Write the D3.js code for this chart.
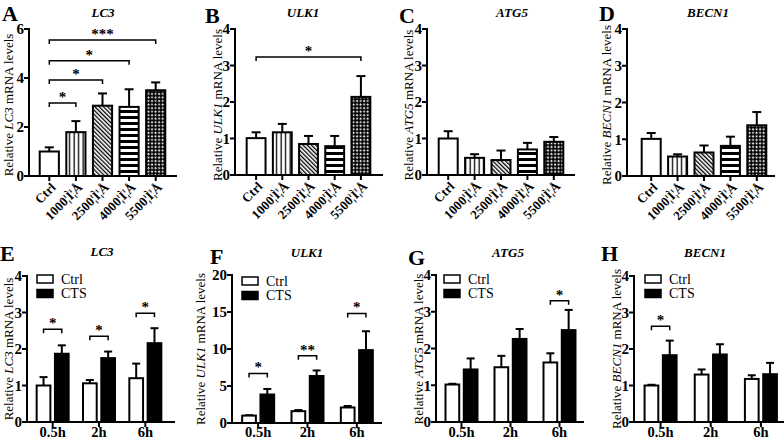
<!DOCTYPE html>
<html><head><meta charset="utf-8">
<script src="https://cdn.jsdelivr.net/npm/d3@7"></script>
<style>
body{margin:0;background:#fff;}
svg text{font-family:"Liberation Serif","Times New Roman",Tinos,"DejaVu Serif","Noto Serif",serif;}
</style></head><body>
<svg id="c" width="784" height="439"></svg>
<script>
// ---------- data ----------
const doseCats = ["Ctrl","1000¦Ì¦Å","2500¦Ì¦Å","4000¦Ì¦Å","5500¦Ì¦Å"];
const doseFills = ["white","vstripe","diag","hstripe","checker"];
const lc3Dose = [1.0, 1.79, 2.87, 2.82, 3.5];
const lc3DoseErr = [0.17, 0.45, 0.5, 0.72, 0.32];
const ulk1Dose = [1.01, 1.17, 0.85, 0.79, 2.14];
const ulk1DoseErr = [0.16, 0.23, 0.22, 0.28, 0.57];
const atg5Dose = [1.0, 0.47, 0.41, 0.7, 0.91];
const atg5DoseErr = [0.2, 0.1, 0.26, 0.18, 0.13];
const becn1Dose = [1.01, 0.53, 0.64, 0.82, 1.38];
const becn1DoseErr = [0.16, 0.06, 0.19, 0.25, 0.36];

const timeCats = ["0.5h","2h","6h"];
const seriesNames = ["Ctrl","CTS"];
const lc3Ctrl = [1.0, 1.06, 1.2],  lc3CtrlErr = [0.23, 0.09, 0.4];
const lc3Cts  = [1.87, 1.75, 2.16], lc3CtsErr = [0.23, 0.18, 0.41];
const ulk1Ctrl = [1.0, 1.6, 2.1],  ulk1CtrlErr = [0.05, 0.15, 0.2];
const ulk1Cts  = [3.85, 6.35, 9.85], ulk1CtsErr = [0.75, 0.75, 2.55];
const atg5Ctrl = [1.02, 1.49, 1.62], atg5CtrlErr = [0.02, 0.31, 0.25];
const atg5Cts  = [1.43, 2.26, 2.5],  atg5CtsErr = [0.3, 0.27, 0.55];
const becn1Ctrl = [1.0, 1.3, 1.18], becn1CtrlErr = [0.02, 0.14, 0.1];
const becn1Cts  = [1.83, 1.85, 1.31], becn1CtsErr = [0.4, 0.28, 0.31];

const ticks4 = [0,1,2,3,4];
const ticks6 = [0,2,4,6];
const ticks20 = [0,5,10,15,20];

const sigA = [{from:0,to:1,y:2.98,label:"*"},{from:0,to:2,y:3.92,label:"*"},{from:0,to:3,y:4.7,label:"*"},{from:0,to:4,y:5.55,label:"***"}];
const sigB = [{from:0,to:4,y:3.23,label:"*"}];
const sigE = [{g:0,y:2.54,label:"*"},{g:1,y:2.35,label:"*"},{g:2,y:2.98,label:"*"}];
const sigF = [{g:0,y:6.7,label:"*"},{g:1,y:9.1,label:"**"},{g:2,y:14.8,label:"*"}];
const sigG = [{g:2,y:3.3,label:"*"}];
const sigH = [{g:0,y:2.62,label:"*"}];

// ---------- drawing ----------
const svg = d3.select("#c");
const defs = svg.append("defs");
let p = defs.append("pattern").attr("id","vstripe").attr("patternUnits","userSpaceOnUse").attr("width",4.5).attr("height",4);
p.append("rect").attr("width",4.5).attr("height",4).attr("fill","#fff");
p.append("rect").attr("x",1.5).attr("width",1.3).attr("height",4).attr("fill","#000");
p = defs.append("pattern").attr("id","diag").attr("patternUnits","userSpaceOnUse").attr("width",3).attr("height",3).attr("patternTransform","rotate(-45)");
p.append("rect").attr("width",3).attr("height",3).attr("fill","#fff");
p.append("rect").attr("x",0).attr("width",1.3).attr("height",3).attr("fill","#000");
p = defs.append("pattern").attr("id","hstripe").attr("patternUnits","userSpaceOnUse").attr("width",4).attr("height",6);
p.append("rect").attr("width",4).attr("height",6).attr("fill","#fff");
p.append("rect").attr("y",2).attr("width",4).attr("height",3).attr("fill","#000");
p = defs.append("pattern").attr("id","checker").attr("patternUnits","userSpaceOnUse").attr("width",5).attr("height",5).attr("patternTransform","rotate(45)");
p.append("rect").attr("width",5).attr("height",5).attr("fill","#000");
p.append("rect").attr("x",0.5).attr("y",0.5).attr("width",1.8).attr("height",1.8).attr("fill","#fff");
p.append("rect").attr("x",3).attr("y",3).attr("width",1.8).attr("height",1.8).attr("fill","#fff");

function fillOf(k){ return k==="white" ? "#fff" : `url(#${k})`; }

function drawAxes(g, L, y, yTicks){
  g.append("line").attr("x1",L.x0).attr("x2",L.x0).attr("y1",L.yTop-1).attr("y2",L.yBot+1).attr("stroke","#000").attr("stroke-width",2);
  g.append("line").attr("x1",L.x0-1).attr("x2",L.x1).attr("y1",L.yBot).attr("y2",L.yBot).attr("stroke","#000").attr("stroke-width",2);
  yTicks.forEach(t=>{
    g.append("line").attr("x1",L.x0-5).attr("x2",L.x0).attr("y1",y(t)).attr("y2",y(t)).attr("stroke","#000").attr("stroke-width",2);
    g.append("text").attr("x",L.x0-5).attr("y",y(t)).attr("dy","0.35em").attr("text-anchor","end")
      .attr("font-size",15).attr("font-weight","bold").text(t);
  });
}
function yTitle(g, x, cy, gene){
  const t = g.append("text").attr("transform",`translate(${x},${cy}) rotate(-90)`).attr("text-anchor","middle").attr("font-size",13);
  t.append("tspan").text("Relative ");
  t.append("tspan").attr("font-style","italic").text(gene);
  t.append("tspan").text(" mRNA levels");
}
function headers(g, letter, lx, ly, gene, tx, ty){
  g.append("text").attr("x",lx).attr("y",ly).attr("font-size",22).attr("font-weight","bold").text(letter);
  g.append("text").attr("x",tx).attr("y",ty).attr("text-anchor","middle").attr("font-size",13).attr("font-weight","bold").attr("font-style","italic").text(gene);
}
function errBar(g, cx, top, yv, cap){
  g.append("line").attr("x1",cx).attr("x2",cx).attr("y1",top).attr("y2",yv).attr("stroke","#000").attr("stroke-width",2);
  g.append("line").attr("x1",cx-cap/2).attr("x2",cx+cap/2).attr("y1",yv).attr("y2",yv).attr("stroke","#000").attr("stroke-width",2);
}
function bracket(g, xa, xb, yy, label){
  g.append("path").attr("d",`M${xa},${yy+4}V${yy}H${xb}V${yy+4}`).attr("fill","none").attr("stroke","#000").attr("stroke-width",1.5);
  g.append("text").attr("x",(xa+xb)/2).attr("y",yy-1).attr("text-anchor","middle").attr("font-size",15).attr("font-weight","bold").text(label);
}

function dosePanel(L, mean, err, sig){
  const g = svg.append("g");
  const y = d3.scaleLinear().domain([0,L.yMax]).range([L.yBot,L.yTop]);
  const x = d3.scaleBand().domain(doseCats).range(L.band).paddingInner(0.28).paddingOuter(0.14);
  doseCats.forEach((c,i)=>{
    errBar(g, x(c)+x.bandwidth()/2, y(mean[i]), y(mean[i]+err[i]), 9);
  });
  g.selectAll("rect.bar").data(doseCats).join("rect").attr("class","bar")
    .attr("x",d=>x(d)).attr("width",x.bandwidth())
    .attr("y",(d,i)=>y(mean[i])).attr("height",(d,i)=>L.yBot-y(mean[i]))
    .attr("fill",(d,i)=>fillOf(doseFills[i])).attr("stroke","#000").attr("stroke-width",2);
  drawAxes(g, L, y, L.ticks);
  doseCats.forEach(c=>{
    const cx = x(c)+x.bandwidth()/2;
    g.append("line").attr("x1",cx).attr("x2",cx).attr("y1",L.yBot).attr("y2",L.yBot+5).attr("stroke","#000").attr("stroke-width",2);
    g.append("text").attr("transform",`translate(${cx+4},${L.yBot+9}) rotate(-45)`).attr("text-anchor","end")
      .attr("dy","0.35em").attr("font-size",13).attr("font-weight","bold").text(c);
  });
  (sig||[]).forEach(s=>{
    bracket(g, x(doseCats[s.from])+x.bandwidth()/2, x(doseCats[s.to])+x.bandwidth()/2, y(s.y), s.label);
  });
  yTitle(g, L.titleX, 105, L.gene);
  headers(g, L.letter, L.lx, L.ly, L.gene, L.tx, L.ty);
}

function timePanel(L, ctrl, ctrlE, cts, ctsE, sig){
  const g = svg.append("g");
  const y = d3.scaleLinear().domain([0,L.yMax]).range([L.yBot,L.yTop]);
  const x = d3.scaleBand().domain(timeCats).range(L.band);
  const xs = d3.scaleBand().domain(seriesNames).range([-16,16]).paddingInner(0.25);
  const vals = {Ctrl:[ctrl,ctrlE], CTS:[cts,ctsE]};
  timeCats.forEach((c,i)=>{
    const gc = x(c)+x.bandwidth()/2;
    seriesNames.forEach(s=>{
      const v = vals[s][0][i], e = vals[s][1][i];
      const bx = gc + xs(s);
      errBar(g, bx+xs.bandwidth()/2, y(v), y(v+e), 8);
      g.append("rect").attr("x",bx).attr("width",xs.bandwidth()).attr("y",y(v)).attr("height",L.yBot-y(v))
        .attr("fill", s==="Ctrl" ? "#fff" : "#000").attr("stroke","#000").attr("stroke-width",2);
    });
  });
  drawAxes(g, L, y, L.ticks);
  timeCats.forEach(c=>{
    const gc = x(c)+x.bandwidth()/2;
    g.append("line").attr("x1",gc).attr("x2",gc).attr("y1",L.yBot).attr("y2",L.yBot+5).attr("stroke","#000").attr("stroke-width",2);
    g.append("text").attr("x",gc).attr("y",437).attr("text-anchor","middle").attr("font-size",14.5).attr("font-weight","bold").text(c);
  });
  (sig||[]).forEach(s=>{
    const gc = x(timeCats[s.g])+x.bandwidth()/2;
    bracket(g, gc+xs("Ctrl")+xs.bandwidth()/2, gc+xs("CTS")+xs.bandwidth()/2, y(s.y), s.label);
  });
  seriesNames.forEach((s,i)=>{
    const ly = L.legY + i*14.5;
    g.append("rect").attr("x",L.legX).attr("y",ly).attr("width",16).attr("height",8)
      .attr("fill", s==="Ctrl" ? "#fff" : "#000").attr("stroke","#000").attr("stroke-width",1.5);
    g.append("text").attr("x",L.legX+24).attr("y",ly+4).attr("dy","0.35em").attr("font-size",14).text(s);
  });
  yTitle(g, L.titleX, 349, L.gene);
  headers(g, L.letter, L.lx, L.ly, L.gene, L.tx, L.ty);
}

dosePanel({x0:29,x1:177,yTop:29,yBot:176,yMax:6,ticks:ticks6,band:[36,169],gene:"LC3",titleX:13,letter:"A",lx:2,ly:21,tx:103,ty:17}, lc3Dose, lc3DoseErr, sigA);
dosePanel({x0:235,x1:383,yTop:29,yBot:175,yMax:4,ticks:ticks4,band:[243,374],gene:"ULK1",titleX:222,letter:"B",lx:205,ly:23,tx:303,ty:17}, ulk1Dose, ulk1DoseErr, sigB);
dosePanel({x0:427,x1:575,yTop:29,yBot:175,yMax:4,ticks:ticks4,band:[435,567],gene:"ATG5",titleX:413,letter:"C",lx:399,ly:23,tx:512,ty:17}, atg5Dose, atg5DoseErr, null);
dosePanel({x0:627,x1:775,yTop:29,yBot:176,yMax:4,ticks:ticks4,band:[638,770],gene:"BECN1",titleX:611,letter:"D",lx:599,ly:21,tx:708,ty:17}, becn1Dose, becn1DoseErr, null);

timePanel({x0:27,x1:175,yTop:276,yBot:422,yMax:4,ticks:ticks4,band:[29.5,168.5],gene:"LC3",titleX:13,letter:"E",lx:0,ly:261,tx:102,ty:256,legX:37,legY:275}, lc3Ctrl, lc3CtrlErr, lc3Cts, lc3CtsErr, sigE);
timePanel({x0:232,x1:382,yTop:275,yBot:423,yMax:20,ticks:ticks20,band:[233.5,381.5],gene:"ULK1",titleX:205,letter:"F",lx:210,ly:264,tx:307,ty:257,legX:242,legY:277}, ulk1Ctrl, ulk1CtrlErr, ulk1Cts, ulk1CtsErr, sigF);
timePanel({x0:436,x1:584,yTop:275,yBot:422,yMax:4,ticks:ticks4,band:[437,584],gene:"ATG5",titleX:423,letter:"G",lx:408,ly:265,tx:508,ty:257,legX:444,legY:275}, atg5Ctrl, atg5CtrlErr, atg5Cts, atg5CtsErr, sigG);
timePanel({x0:634,x1:784,yTop:276,yBot:422,yMax:4,ticks:ticks4,band:[635.5,786],gene:"BECN1",titleX:621,letter:"H",lx:601,ly:261,tx:705,ty:257,legX:645,legY:275}, becn1Ctrl, becn1CtrlErr, becn1Cts, becn1CtsErr, sigH);
</script></body></html>
